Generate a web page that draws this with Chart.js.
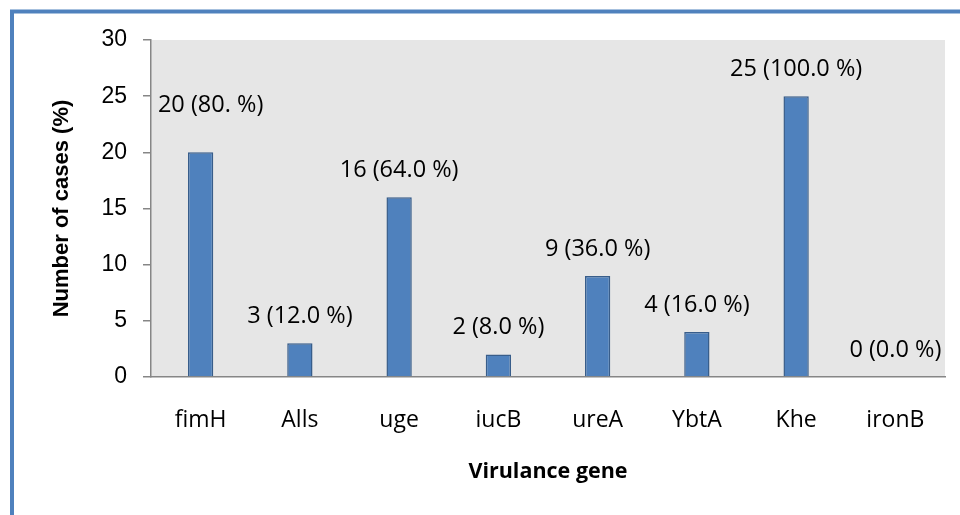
<!DOCTYPE html>
<html lang="en">
<head>
    <meta charset="UTF-8">
    <title>Virulence genes</title>
    <style>
        html, body {
            margin: 0;
            padding: 0;
            background: #fff;
        }
        #wrap {
            width: 960px;
            height: 515px;
        }
    </style>
</head>
<body>
    <div id="wrap"><canvas id="chart" width="960" height="515"></canvas></div>

    <script src="https://cdn.jsdelivr.net/npm/chart.js"></script>
    <script>
        const genes = ['fimH', 'Alls', 'uge', 'iucB', 'ureA', 'YbtA', 'Khe', 'ironB'];
        const cases = [20, 3, 16, 2, 9, 4, 25, 0];
        const caseLabels = ['20 (80. %)', '3 (12.0 %)', '16 (64.0 %)', '2 (8.0 %)', '9 (36.0 %)', '4 (16.0 %)', '25 (100.0 %)', '0 (0.0 %)'];
        const yTicks = [0, 5, 10, 15, 20, 25, 30];

        const calibriLike = '"Open Sans", "Liberation Sans", sans-serif';
        const arialLike = '"Liberation Sans", Arial, sans-serif';

        // gray plot area + blue outer frame
        const frame = {
            id: 'frame',
            beforeDraw(chart) {
                const { ctx, chartArea: a } = chart;
                ctx.save();
                ctx.fillStyle = '#e6e6e6';
                ctx.fillRect(a.left, a.top, a.right - a.left, a.bottom - a.top);
                ctx.strokeStyle = '#4f81bd';
                ctx.lineWidth = 4;
                ctx.strokeRect(12, 11.5, 1000, 600);
                ctx.restore();
            }
        };

        // value labels above the bars
        const barLabels = {
            id: 'barLabels',
            afterDatasetsDraw(chart) {
                const { ctx } = chart;
                const meta = chart.getDatasetMeta(0);
                ctx.save();
                ctx.font = '23.5px ' + calibriLike;
                ctx.fillStyle = '#000';
                ctx.textAlign = 'center';
                ctx.textBaseline = 'middle';
                meta.data.forEach((bar, i) => {
                    let dx = 0, dy = 27;
                    if (i === 0) { dx = 10; dy = 47; }   // this one was moved by hand in the original
                    ctx.fillText(caseLabels[i], bar.x + dx, bar.y - dy);
                });
                ctx.restore();
            }
        };

        new Chart(document.getElementById('chart'), {
            type: 'bar',
            data: {
                labels: genes,
                datasets: [{
                    data: cases,
                    backgroundColor: '#4f81bd',
                    borderColor: '#385d8a',
                    borderWidth: 1.5,
                    barPercentage: 1,
                    categoryPercentage: 0.255
                }]
            },
            options: {
                responsive: false,
                animation: false,
                events: [],
                layout: {
                    padding: { top: 40, right: 15, bottom: 0, left: 0 }
                },
                plugins: {
                    legend: { display: false },
                    tooltip: { enabled: false }
                },
                scales: {
                    x: {
                        grid: { display: false, drawTicks: false },
                        border: { display: true, color: '#868686', width: 1.5 },
                        ticks: {
                            color: '#000',
                            padding: 30,
                            font: { family: calibriLike, size: 23 }
                        },
                        title: {
                            display: true,
                            text: 'Virulance gene',
                            color: '#000',
                            padding: { top: 0, bottom: 30 },
                            font: { family: calibriLike, size: 21.5, weight: 'bold' }
                        },
                        afterFit(scale) { scale.height = 138; }
                    },
                    y: {
                        min: 0,
                        max: 30,
                        afterBuildTicks(scale) {
                            scale.ticks = yTicks.map(v => ({ value: v }));
                        },
                        grid: {
                            drawOnChartArea: false,
                            drawTicks: true,
                            tickLength: 8,
                            color: '#868686',
                            lineWidth: 1.5
                        },
                        border: { display: true, color: '#868686', width: 1.5 },
                        ticks: {
                            color: '#000',
                            padding: 16,
                            font: { family: arialLike, size: 23 }
                        },
                        title: {
                            display: true,
                            text: 'Number of cases (%)',
                            color: '#000',
                            padding: { top: 49, bottom: 0 },
                            font: { family: arialLike, size: 22, weight: 'bold' }
                        },
                        afterFit(scale) { scale.width = 151; }
                    }
                }
            },
            plugins: [frame, barLabels]
        });
    </script>
</body>
</html>
